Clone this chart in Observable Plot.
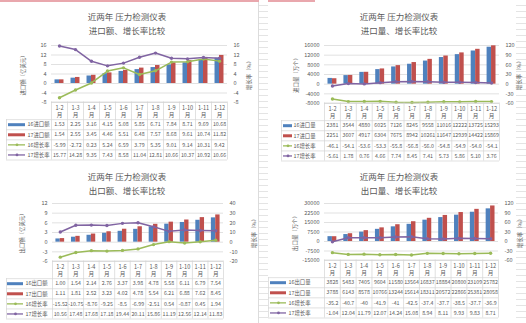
<!DOCTYPE html>
<html><head><meta charset="utf-8">
<script src="https://cdn.jsdelivr.net/npm/d3@7"></script>
<script src="https://cdn.jsdelivr.net/npm/@observablehq/plot@0.6"></script>
<style>
body{margin:0;background:#fff;font-family:"Noto Sans CJK SC","Noto Sans",sans-serif;}
#page{position:relative;width:526px;height:323px;overflow:hidden;background:#fff}
.panel{position:absolute;width:263px;height:163px}
.panel svg{position:absolute;overflow:visible}
.title{position:absolute;width:160px;text-align:center;color:#595959;font-size:8.5px;line-height:10px;white-space:nowrap}
.ytitle{position:absolute;transform:translate(-50%,-50%) rotate(-90deg);white-space:nowrap;color:#595959;font-size:5.4px;line-height:6px}
.strip{position:absolute;background:repeating-linear-gradient(to bottom,#fff 0 5px,#e4e4e4 5px 6px)}
</style></head>
<body><div id="page">
<div style="position:absolute;left:0;top:0;width:315px;height:2px;background:#e9a7ad"></div>
<div class="strip" style="left:259px;top:0;width:9px;height:323px"></div>
<div class="strip" style="left:516px;top:0;width:10px;height:323px"></div>
<div style="position:absolute;left:258px;top:2px;width:1px;height:321px;background:#dcdcdc"></div>
</div>
<script>
const months = ["1-2","1-3","1-4","1-5","1-6","1-7","1-8","1-9","1-10","1-11","1-12"];

// 进口额 (亿美元)
const impAmt16 = [1.53,2.25,3.16,4.15,5.08,5.85,6.71,7.84,8.71,9.69,10.68];
const impAmt17 = [1.54,2.55,3.45,4.46,5.51,6.48,7.57,8.68,9.61,10.74,11.82];
const impAmtRate16 = [-5.99,-2.72,0.23,5.24,6.59,3.79,5.35,9.01,9.14,10.31,9.42];
const impAmtRate17 = [15.77,14.28,9.35,7.43,8.58,11.04,12.81,10.66,10.37,10.92,10.66];
// 进口量 (万个)
const impQty16 = [2381,3544,4880,6025,7126,8245,9558,11016,12222,13725,15293];
const impQty17 = [2251,3607,4917,6304,7675,8942,10261,11647,12939,14422,15869];
const impQtyRate16 = [-46.1,-54.1,-53.6,-53.3,-55.8,-56.8,-56.0,-54.8,-54.9,-54.0,-54.1];
const impQtyRate17 = [-5.61,1.78,0.76,4.66,7.74,8.45,7.41,5.73,5.86,5.10,3.76];
// 出口额 (亿美元)
const expAmt16 = [1.00,1.54,2.14,2.76,3.37,3.98,4.78,5.58,6.11,6.79,7.54];
const expAmt17 = [1.11,1.81,2.52,3.23,4.02,4.78,5.54,6.21,6.88,7.62,8.45];
const expAmtRate16 = [-15.52,-10.75,-8.76,-9.25,-8.5,-6.99,-2.51,0.54,-0.87,0.45,1.94];
const expAmtRate17 = [10.56,17.48,17.68,17.18,19.44,20.11,15.86,11.19,12.56,12.14,11.83];
// 出口量 (万个)
const expQty16 = [3828,5483,7405,9604,11580,13564,16837,18884,20800,23109,25782];
const expQty17 = [3788,6143,8578,10766,13244,15614,18311,20572,22866,25381,28058];
const expQtyRate16 = [-35.2,-40.7,-40.0,-41.9,-41,-42.5,-37.4,-37.7,-38.5,-37.7,-36.9];
const expQtyRate17 = [-1.04,12.04,11.79,12.07,14.24,15.08,8.94,8.11,9.93,9.83,8.71];

// tick labels
const impAmtTicks = [16,12,8,4,0,-4,-8];
const impQtyTicks = [16000,12000,8000,4000,0,-4000,-8000];
const expAmtTicks = [12,9,6,3,0,-3,-6];
const expQtyTicks = [30000,22500,15000,7500,0,-7500,-15000];
const rateTicksA = [16,12,8,4,0,-4,-8];
const rateTicksB = [120,90,60,30,0,-30,-60];
const rateTicksC = [40,30,20,10,0,-10,-20];

const title1 = "近两年 压力检测仪表";
const COLORS = {b16:"#4F81BD", b17:"#C0504D", r16:"#9BBB59", r17:"#8064A2"};
const FONT = '"Noto Sans CJK SC","Noto Sans",sans-serif';
const TXT = "#595959";

const f2 = v => v.toFixed(2), f1 = v => v.toFixed(1), fs = v => String(v);

const panels = [
  {left:0, top:0, t2:"进口额、增长率比较", titleX:127, colX:[51,227], yTop:45, yBot:102,
   ticks:impAmtTicks, rTicks:rateTicksA, bars:[impAmt16, impAmt17], rates:[impAmtRate16, impAmtRate17],
   fmt:[f2,f2,f2,f2], names:["16进口额","17进口额","16增长率","17增长率"],
   yTitle:"进口额（亿美元）", yTitleX:23, rTitleX:249, tableLeft:6, keyX:[8,25], labelX:27},
  {left:263, top:0, t2:"进口量、增长率比较", titleX:136, colX:[61,236], yTop:45, yBot:103,
   ticks:impQtyTicks, rTicks:rateTicksB, bars:[impQty16, impQty17], rates:[impQtyRate16, impQtyRate17],
   fmt:[fs,fs,f1,f2], names:["16进口量","17进口量","16增长率","17增长率"],
   yTitle:"进口量（万个）", yTitleX:33, rTitleX:256, tableLeft:18, keyX:[20,29], labelX:30},
  {left:0, top:160, t2:"出口额、增长率比较", titleX:127, colX:[52,223], yTop:43, yBot:101,
   ticks:expAmtTicks, rTicks:rateTicksC, bars:[expAmt16, expAmt17], rates:[expAmtRate16, expAmtRate17],
   fmt:[f2,f2,fs,f2], names:["16出口额","17出口额","16增长率","17增长率"],
   yTitle:"出口额（亿美元）", yTitleX:22, rTitleX:254, tableLeft:6, keyX:[7,23], labelX:25},
  {left:263, top:160, t2:"出口量、增长率比较", titleX:136, colX:[61,235], yTop:43, yBot:100,
   ticks:expQtyTicks, rTicks:rateTicksB, bars:[expQty16, expQty17], rates:[expQtyRate16, expQtyRate17],
   fmt:[fs,fs,fs,f2], names:["16出口量","17出口量","16增长率","17增长率"],
   yTitle:"出口量（万个）", yTitleX:32, rTitleX:257, tableLeft:5, keyX:[7,23], labelX:25}
];

const page = document.getElementById("page");
const n = months.length, idx = d3.range(n);

for (const p of panels) {
  const div = document.createElement("div");
  div.className = "panel";
  div.style.left = p.left + "px"; div.style.top = p.top + "px";
  page.append(div);

  // titles
  for (const [t, cy] of [[title1, 16], [p.t2, 30]]) {
    const d = document.createElement("div");
    d.className = "title"; d.textContent = t;
    d.style.left = (p.titleX - 80) + "px"; d.style.top = (cy - 5) + "px";
    div.append(d);
  }
  const cyMid = (p.yTop + p.yBot) / 2;
  for (const [t, x] of [[p.yTitle, p.yTitleX], ["增长率（%）", p.rTitleX]]) {
    const d = document.createElement("div");
    d.className = "ytitle"; d.textContent = t;
    d.style.left = x + "px"; d.style.top = cyMid + "px";
    div.append(d);
  }

  const yDom = [p.ticks[p.ticks.length - 1], p.ticks[0]];
  const rDom = [p.rTicks[p.rTicks.length - 1], p.rTicks[0]];
  const toLeft = d3.scaleLinear().domain(rDom).range(yDom);
  const pad = 6;
  const W = 263;
  const chart = Plot.plot({
    width: W, height: (p.yBot - p.yTop) + 2 * pad,
    marginLeft: p.colX[0], marginRight: W - p.colX[1], marginTop: pad, marginBottom: pad,
    x: {domain: [0, n], axis: null},
    y: {domain: yDom, axis: null},
    style: {background: "transparent", color: TXT, fontFamily: FONT, fontSize: "5.5px"},
    marks: [
      Plot.ruleY(p.ticks, {stroke: "#d9d9d9", strokeWidth: 0.8}),
      Plot.rect(idx, {x1: i => i + 0.22, x2: i => i + 0.5, y1: 0, y2: i => p.bars[0][i], fill: COLORS.b16}),
      Plot.rect(idx, {x1: i => i + 0.5, x2: i => i + 0.78, y1: 0, y2: i => p.bars[1][i], fill: COLORS.b17}),
      Plot.line(idx, {x: i => i + 0.5, y: i => toLeft(p.rates[0][i]), stroke: COLORS.r16, strokeWidth: 1.5}),
      Plot.dot(idx, {x: i => i + 0.5, y: i => toLeft(p.rates[0][i]), r: 1.7, fill: COLORS.r16}),
      Plot.line(idx, {x: i => i + 0.5, y: i => toLeft(p.rates[1][i]), stroke: COLORS.r17, strokeWidth: 1.5}),
      Plot.dot(idx, {x: i => i + 0.5, y: i => toLeft(p.rates[1][i]), r: 1.7, fill: COLORS.r17}),
      Plot.axisY({ticks: p.ticks, tickSize: 0, tickPadding: 5, label: null, tickFormat: d => String(d)}),
      Plot.axisY({anchor: "right", ticks: p.rTicks.map(v => toLeft(v)), tickSize: 0, tickPadding: 6, label: null,
                  tickFormat: v => String(Math.round(toLeft.invert(v)))})
    ]
  });
  chart.style.left = "0px"; chart.style.top = (p.yTop - pad) + "px";
  div.append(chart);

  // data table
  const unitPx = (p.colX[1] - p.colX[0]) / n;
  const u = px => (px - p.colX[0]) / unitPx;
  const hdr = 1.75, total = hdr + 4;
  const tableTop = p.yBot - 1, tableH = 59;
  const series = [p.bars[0], p.bars[1], p.rates[0], p.rates[1]];
  const cells = [];
  series.forEach((s, r) => s.forEach((v, i) => cells.push({r, i, t: p.fmt[r](v)})));
  const rows = d3.range(4);
  const keyColor = [COLORS.b16, COLORS.b17, COLORS.r16, COLORS.r17];
  const table = Plot.plot({
    width: W, height: tableH,
    marginLeft: p.colX[0], marginRight: W - p.colX[1], marginTop: 0, marginBottom: 0,
    x: {domain: [0, n], axis: null},
    y: {domain: [0, total], range: [0.5, tableH - 0.5], axis: null},
    style: {background: "transparent", color: TXT, fontFamily: FONT},
    marks: [
      Plot.ruleX(d3.range(n + 1), {y1: 0, y2: total, stroke: "#d4d4d4", strokeWidth: 0.7}),
      Plot.ruleX([u(p.tableLeft)], {y1: hdr, y2: total, stroke: "#d4d4d4", strokeWidth: 0.7}),
      Plot.ruleY([0], {x1: 0, x2: n, stroke: "#d4d4d4", strokeWidth: 0.7}),
      Plot.ruleY(d3.range(5).map(k => hdr + k), {x1: u(p.tableLeft), x2: n, stroke: "#d4d4d4", strokeWidth: 0.7}),
      Plot.text(idx, {x: i => i + 0.5, y: hdr / 2, text: i => months[i] + "\n月", fontSize: 5.6, lineHeight: 1.25, fill: TXT}),
      Plot.text(cells, {x: d => d.i + 0.5, y: d => hdr + d.r + 0.5, text: "t", fontSize: 5.3, fill: TXT}),
      Plot.ruleY(rows.filter(r => r < 2), {y: r => hdr + r + 0.5, x1: u(p.keyX[0]), x2: u(p.keyX[1]), stroke: r => keyColor[r], strokeWidth: 3}),
      Plot.ruleY(rows.filter(r => r >= 2), {y: r => hdr + r + 0.5, x1: u(p.keyX[0]), x2: u(p.keyX[1]), stroke: r => keyColor[r], strokeWidth: 1.3}),
      Plot.dot(rows.filter(r => r >= 2), {y: r => hdr + r + 0.5, x: u((p.keyX[0] + p.keyX[1]) / 2), r: 1.4, fill: r => keyColor[r]}),
      Plot.text(rows, {y: r => hdr + r + 0.5, x: u(p.labelX), text: r => p.names[r], textAnchor: "start", fontSize: 5.4, fill: TXT})
    ]
  });
  table.style.left = "0px"; table.style.top = tableTop + "px";
  div.append(table);
}
</script>
</body></html>
